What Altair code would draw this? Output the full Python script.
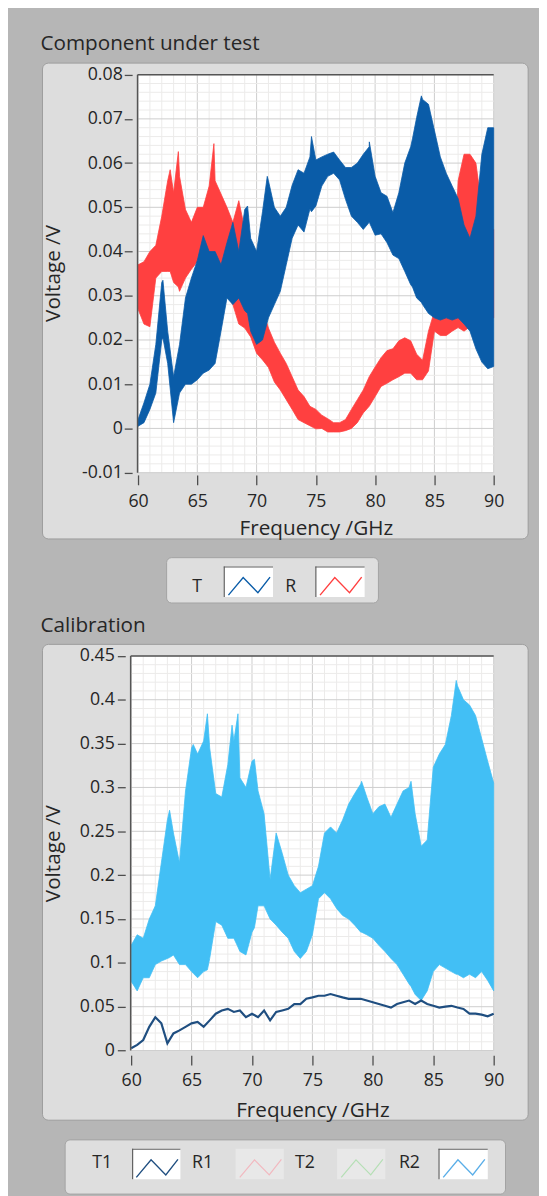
import altair as alt
import pandas as pd

# ---------------- data ----------------
FREQ = [60.0, 60.5, 61.0, 61.5, 62.0, 62.5, 63.0, 63.5, 64.0, 64.5,
        65.0, 65.5, 66.0, 66.5, 67.0, 67.5, 68.0, 68.5, 69.0, 69.5,
        70.0, 70.5, 71.0, 71.5, 72.0, 72.5, 73.0, 73.5, 74.0, 74.5,
        75.0, 75.5, 76.0, 76.5, 77.0, 77.5, 78.0, 78.5, 79.0, 79.5,
        80.0, 80.5, 81.0, 81.5, 82.0, 82.5, 83.0, 83.5, 84.0, 84.5,
        85.0, 85.5, 86.0, 86.5, 87.0, 87.5, 88.0, 88.5, 89.0, 89.5, 90.0]

# Component under test: T (transmission) envelope
T_HI = [0.002, 0.0058, 0.010, 0.019, 0.033, 0.022, 0.0117, 0.019, 0.0295, 0.034,
        0.038, 0.0436, 0.040, 0.040, 0.037, 0.042, 0.0466, 0.040, 0.0495, 0.043,
        0.040, 0.049, 0.056, 0.050, 0.048, 0.050, 0.055, 0.0585, 0.0577, 0.0614,
        0.0607, 0.0614, 0.062, 0.0625, 0.0607, 0.059, 0.059, 0.060, 0.062, 0.0637,
        0.057, 0.0533, 0.0525, 0.0488, 0.0533, 0.060, 0.0637, 0.0703, 0.0744, 0.0733,
        0.0674, 0.0614, 0.0577, 0.0548, 0.052, 0.046, 0.043, 0.048, 0.062, 0.068, 0.068]
T_LO = [0.0005, 0.0013, 0.0043, 0.008, 0.020, 0.0147, 0.0013, 0.008, 0.010, 0.010,
        0.011, 0.0125, 0.0132, 0.0147, 0.022, 0.0295, 0.028, 0.0295, 0.0266, 0.022,
        0.019, 0.020, 0.025, 0.028, 0.031, 0.037, 0.043, 0.046, 0.0444, 0.0496,
        0.0503, 0.0548, 0.057, 0.0577, 0.0562, 0.0518, 0.048, 0.0466, 0.045, 0.0466,
        0.0437, 0.044, 0.042, 0.0392, 0.0384, 0.0355, 0.0325, 0.0295, 0.028, 0.026,
        0.025, 0.0245, 0.025, 0.0245, 0.025, 0.0236, 0.022, 0.018, 0.015, 0.0135, 0.014]
# narrow spikes seen on the T trace
T_SPK_F = [62.1, 69.24, 70.9, 74.63, 79.51, 83.15, 83.9]
T_SPK_HI = [0.0335, 0.0503, 0.057, 0.066, 0.0648, 0.0655, 0.0752]
T_SPK_LO = [0.0205, 0.026, 0.024, 0.049, 0.0466, 0.032, 0.0285]

# Component under test: R (reflection) envelope
R_HI = [0.037, 0.0377, 0.040, 0.0414, 0.048, 0.056, 0.0533, 0.057, 0.0495, 0.0466,
        0.050, 0.050, 0.0548, 0.056, 0.053, 0.050, 0.0466, 0.0515, 0.045, 0.040,
        0.030, 0.027, 0.0227, 0.0195, 0.017, 0.0147, 0.0117, 0.0087, 0.0072, 0.005,
        0.0043, 0.003, 0.0022, 0.0013, 0.0013, 0.002, 0.0043, 0.0065, 0.0087, 0.0117,
        0.0139, 0.016, 0.0176, 0.018, 0.0198, 0.0205, 0.0198, 0.0168, 0.0154, 0.022,
        0.0265, 0.025, 0.025, 0.0257, 0.056, 0.062, 0.062, 0.060, 0.050, 0.045, 0.045]
R_LO = [0.027, 0.0236, 0.023, 0.034, 0.0355, 0.0355, 0.033, 0.031, 0.034, 0.036,
        0.0377, 0.040, 0.036, 0.034, 0.033, 0.030, 0.028, 0.0236, 0.0227, 0.0207,
        0.017, 0.0155, 0.0138, 0.0105, 0.0087, 0.0065, 0.0043, 0.002, 0.0013, 0.0006,
        -0.0001, 0.0, -0.0008, -0.0008, -0.0008, -0.0005, 0.0, 0.0013, 0.0035, 0.005,
        0.0072, 0.0095, 0.0102, 0.011, 0.0117, 0.0125, 0.0125, 0.011, 0.011, 0.013,
        0.022, 0.021, 0.021, 0.022, 0.0228, 0.022, 0.023, 0.024, 0.025, 0.025, 0.025]
R_SPK_F = [62.71, 63.4, 66.4]
R_SPK_HI = [0.0585, 0.0626, 0.0644]
R_SPK_LO = [0.0355, 0.032, 0.035]

# Calibration: R2 envelope
R2_HI = [0.12, 0.132, 0.128, 0.15, 0.165, 0.214, 0.263, 0.248, 0.214, 0.296,
         0.345, 0.338, 0.353, 0.345, 0.293, 0.289, 0.326, 0.353, 0.311, 0.30,
         0.33, 0.296, 0.27, 0.195, 0.248, 0.225, 0.2, 0.188, 0.18, 0.184,
         0.188, 0.21, 0.248, 0.255, 0.248, 0.263, 0.281, 0.293, 0.304, 0.289,
         0.27, 0.278, 0.281, 0.266, 0.281, 0.296, 0.30, 0.27, 0.233, 0.24,
         0.323, 0.338, 0.349, 0.382, 0.416, 0.40, 0.394, 0.382, 0.356, 0.33, 0.305]
R2_LO = [0.079, 0.068, 0.083, 0.083, 0.098, 0.102, 0.105, 0.109, 0.098, 0.098,
         0.09, 0.083, 0.09, 0.105, 0.147, 0.143, 0.128, 0.128, 0.113, 0.109,
         0.135, 0.165, 0.165, 0.15, 0.143, 0.135, 0.128, 0.113, 0.105, 0.113,
         0.132, 0.173, 0.18, 0.173, 0.162, 0.154, 0.15, 0.143, 0.135, 0.132,
         0.128, 0.12, 0.113, 0.105, 0.098, 0.087, 0.076, 0.064, 0.057, 0.068,
         0.09, 0.098, 0.094, 0.09, 0.087, 0.083, 0.087, 0.083, 0.09, 0.08, 0.068]
R2_SPK_F = [63.18, 65.14, 66.31, 68.35, 68.84, 70.2, 79.07, 83.16, 86.9]
R2_SPK_HI = [0.274, 0.349, 0.384, 0.371, 0.384, 0.332, 0.307, 0.307, 0.422]
R2_SPK_LO = [0.106, 0.088, 0.092, 0.128, 0.118, 0.14, 0.135, 0.073, 0.087]

# Calibration: T1 trace
T1 = [0.0026, 0.0064, 0.012, 0.027, 0.038, 0.031, 0.0082, 0.0195, 0.023, 0.027,
      0.031, 0.0326, 0.027, 0.0344, 0.042, 0.0457, 0.0475, 0.044, 0.0457, 0.038,
      0.042, 0.038, 0.0457, 0.0344, 0.044, 0.0457, 0.0475, 0.053, 0.053, 0.059,
      0.0606, 0.0625, 0.0625, 0.0644, 0.0625, 0.0606, 0.059, 0.059, 0.059, 0.057,
      0.055, 0.053, 0.051, 0.049, 0.053, 0.055, 0.057, 0.053, 0.057, 0.053,
      0.051, 0.049, 0.050, 0.051, 0.049, 0.0475, 0.042, 0.042, 0.041, 0.039, 0.042]

X_TICKS = [60, 65, 70, 75, 80, 85, 90]
X_MINOR = [61, 62, 63, 64, 66, 67, 68, 69, 71, 72, 73, 74, 76, 77, 78, 79,
           81, 82, 83, 84, 86, 87, 88, 89]
TOP_Y_TICKS = [-0.01, 0.0, 0.01, 0.02, 0.03, 0.04, 0.05, 0.06, 0.07, 0.08]
TOP_Y_MINOR = [round(-0.01 + 0.002 * i, 4) for i in range(46) if i % 5]
BOT_Y_TICKS = [0.0, 0.05, 0.1, 0.15, 0.2, 0.25, 0.3, 0.35, 0.4, 0.45]
BOT_Y_MINOR = [round(0.01 * i, 3) for i in range(46) if i % 5]

# ---------------- styling ----------------
FONT = "Open Sans"
TXT = "#262626"
BG = "#b6b6b6"
FRAME = "#dddddd"
FRAME_STROKE = "#9c9c9c"
MAJOR = "#cdcdcd"
MINOR = "#ecebea"
BLUE = "#0a5ca8"
RED = "#ff4040"
LIGHT = "#42bff5"
NAVY = "#1f4e80"
ZIG = "M-0.92,0.41L-0.24,-0.40L0.44,0.30L1.0,-0.42"
TITLE_SIZE = 21
LABEL_SIZE = 18

CW, CH = 539, 1188          # whole chart (grey application window)

# plot-area geometry (chart pixels)
TX0, TX1, TY0, TY1 = 132, 493, 58.7, 462.7       # top graph
BX0, BX1, BY0, BY1 = 125, 493, 648.7, 1049.3     # bottom graph

ONE = alt.Data(values=[{"k": 0}])


def band(freq, hi, lo, sf, shi, slo):
    d = pd.DataFrame({"f": list(freq) + list(sf), "hi": list(hi) + list(shi),
                      "lo": list(lo) + list(slo)})
    return d.sort_values("f").reset_index(drop=True)


df_t = band(FREQ, T_HI, T_LO, T_SPK_F, T_SPK_HI, T_SPK_LO)
df_r = band(FREQ, R_HI, R_LO, R_SPK_F, R_SPK_HI, R_SPK_LO)
df_r2 = band(FREQ, R2_HI, R2_LO, R2_SPK_F, R2_SPK_HI, R2_SPK_LO)
df_t1 = pd.DataFrame({"f": FREQ, "v": T1})


def rect(x, x2, y, y2, **kw):
    return alt.Chart(ONE).mark_rect(**kw).encode(
        x=alt.value(x), x2=alt.value(x2), y=alt.value(y), y2=alt.value(y2))


def hrule(x, x2, y, color, w=1.0):
    return alt.Chart(ONE).mark_rule(color=color, strokeWidth=w).encode(
        x=alt.value(x), x2=alt.value(x2), y=alt.value(y))


def vrule(x, y, y2, color, w=1.0):
    return alt.Chart(ONE).mark_rule(color=color, strokeWidth=w).encode(
        x=alt.value(x), y=alt.value(y), y2=alt.value(y2))


def text(s, x, y, size, align="left"):
    return alt.Chart(ONE).mark_text(
        text=s, align=align, baseline="alphabetic", font=FONT,
        fontSize=size, color=TXT).encode(x=alt.value(x), y=alt.value(y))


def zig(cx, cy, color, w=1.4):
    return alt.Chart(ONE).mark_point(
        shape=ZIG, filled=False, size=1936, stroke=color, strokeWidth=w,
        opacity=1).encode(x=alt.value(cx), y=alt.value(cy))


def swatch(x, x2, y, y2, color, active=True):
    if active:
        return [rect(x, x2, y, y2, fill="white"),
                hrule(x, x2, y + 0.5, "#5e5e5e", 1.2),
                vrule(x + 0.5, y, y2, "#5e5e5e", 1.2),
                zig((x + x2) / 2, y + 20, color)]
    return [rect(x, x2, y, y2, fill="#e8e8e8"),
            zig((x + x2) / 2, y + 20, color, 1.2)]


def x_axis(offset, pad, title_x, title_y):
    return alt.Axis(values=X_TICKS, format="d", grid=False, domain=False,
                    orient="bottom", offset=offset, tickSize=10,
                    tickColor="#4d4d4d", tickWidth=1.3,
                    labelFlush=False, labelBaseline="alphabetic", labelPadding=pad,
                    labelFont=FONT, labelFontSize=LABEL_SIZE, labelColor=TXT,
                    title="Frequency /GHz", titleFont=FONT, titleFontSize=TITLE_SIZE,
                    titleFontWeight="normal", titleColor=TXT,
                    titleX=title_x, titleY=title_y, titleAlign="center",
                    titleBaseline="alphabetic", zindex=1)


def y_axis(values, label_expr, offset, pad, title_x, title_y):
    return alt.Axis(values=values, labelExpr=label_expr, grid=False, domain=False,
                    orient="left", offset=offset, tickSize=8,
                    tickColor="#4d4d4d", tickWidth=1.3,
                    labelPadding=pad, labelFont=FONT, labelFontSize=LABEL_SIZE,
                    labelColor=TXT, labelBaseline="middle",
                    title="Voltage /V", titleFont=FONT, titleFontSize=TITLE_SIZE,
                    titleFontWeight="normal", titleColor=TXT,
                    titleAngle=270, titleX=title_x, titleY=title_y,
                    titleAlign="center", titleBaseline="middle", zindex=1)


def graph(x0, x1, y0, y1, ydom, yticks, yminor, xaxis, yaxis, data_layers):
    xs = alt.Scale(domain=[60, 90], range=[x0, x1], nice=False, zero=False)
    ys = alt.Scale(domain=ydom, range=[y1, y0], nice=False, zero=False)
    X = lambda fld: alt.X(fld, type="quantitative", scale=xs, axis=xaxis)
    Y = lambda fld: alt.Y(fld, type="quantitative", scale=ys, axis=yaxis)
    layers = [rect(x0, x1, y0, y1, fill="white")]
    for vals, col in ((X_MINOR, MINOR), (X_TICKS, MAJOR)):
        layers.append(alt.Chart(pd.DataFrame({"f": vals})).mark_rule(color=col).encode(
            x=X("f"), y=alt.value(y0), y2=alt.value(y1)))
    for vals, col in ((yminor, MINOR), (yticks, MAJOR)):
        layers.append(alt.Chart(pd.DataFrame({"v": vals})).mark_rule(color=col).encode(
            y=Y("v"), x=alt.value(x0), x2=alt.value(x1)))
    for kind, df, color, hi, lo in data_layers:
        if kind == "area":
            layers.append(alt.Chart(df).mark_area(
                color=color, stroke=color, strokeWidth=0.8).encode(
                x=X("f"), y=Y(hi), y2=alt.Y2(lo)))
        else:
            layers.append(alt.Chart(df).mark_line(
                color=color, strokeWidth=2.2).encode(x=X("f"), y=Y(hi)))
    layers.append(vrule(x0 - 0.5, y0, y1, "#555555", 1.5))
    layers.append(hrule(x0 - 0.5, x1, y0, "#555555", 1.5))
    return layers


# ---------------- top panel ----------------
top_layers = [
    rect(35, 528, 47, 530, fill=FRAME, stroke=FRAME_STROKE, strokeWidth=1, cornerRadius=6),
    text("Component under test", 33, 34, TITLE_SIZE),
]
top_layers += graph(
    TX0, TX1, TY0, TY1, [-0.01, 0.08], TOP_Y_TICKS, TOP_Y_MINOR,
    x_axis(465 - CH, 22, (TX0 + TX1) / 2, 60.5),
    y_axis(TOP_Y_TICKS,
           "datum.value < 0 ? '-' + format(-datum.value, '.2~f') : format(datum.value, '.2~f')",
           -(TX0 - 6), 2, -80, 260),
    [("area", df_r, RED, "hi", "lo"), ("area", df_t, BLUE, "hi", "lo")])
top_layers += [
    rect(161, 376, 549, 595, fill="#dedede", stroke="#a3a3a3", strokeWidth=1, cornerRadius=5),
    text("T", 192, 584, 18, "center"),
    text("R", 287, 584, 18, "center"),
]
top_layers += swatch(219, 269, 558, 589, BLUE)
top_layers += swatch(312, 362, 558, 589, RED)

# ---------------- bottom panel ----------------
bot_layers = [
    rect(35, 528, 637, 1120, fill=FRAME, stroke=FRAME_STROKE, strokeWidth=1, cornerRadius=6),
    text("Calibration", 33, 624, TITLE_SIZE),
]
bot_layers += graph(
    BX0, BX1, BY0, BY1, [0, 0.45], BOT_Y_TICKS, BOT_Y_MINOR,
    x_axis(1054 - CH, 21, (BX0 + BX1) / 2, 62.5),
    y_axis(BOT_Y_TICKS, "format(datum.value, '.2~f')", -(BX0 - 6), 3, -73, 849),
    [("area", df_r2, LIGHT, "hi", "lo"), ("line", df_t1, NAVY, "v", None)])
bot_layers += [
    rect(58, 505, 1140, 1195, fill="#dedede", stroke="#a3a3a3", strokeWidth=1, cornerRadius=5),
    text("T1", 95.5, 1169, 18, "center"),
    text("R1", 197.5, 1169, 18, "center"),
    text("T2", 301.5, 1169, 18, "center"),
    text("R2", 407.5, 1169, 18, "center"),
]
bot_layers += swatch(126, 175, 1149, 1180, NAVY)
bot_layers += swatch(231, 280, 1149, 1180, "#f2b8bf", active=False)
bot_layers += swatch(334, 383, 1149, 1180, "#b5dfb5", active=False)
bot_layers += swatch(437, 487, 1149, 1180, "#5aaee8")

top = alt.layer(*top_layers)
bottom = alt.layer(*bot_layers)

chart = alt.layer(top, bottom).resolve_scale(
    x="independent", y="independent"
).properties(
    width=CW, height=CH, background=BG, padding=0,
    autosize=alt.AutoSizeParams(type="none")
).configure_view(strokeWidth=0)

chart.save("out.html", embed_options={"renderer": "svg", "actions": False})
